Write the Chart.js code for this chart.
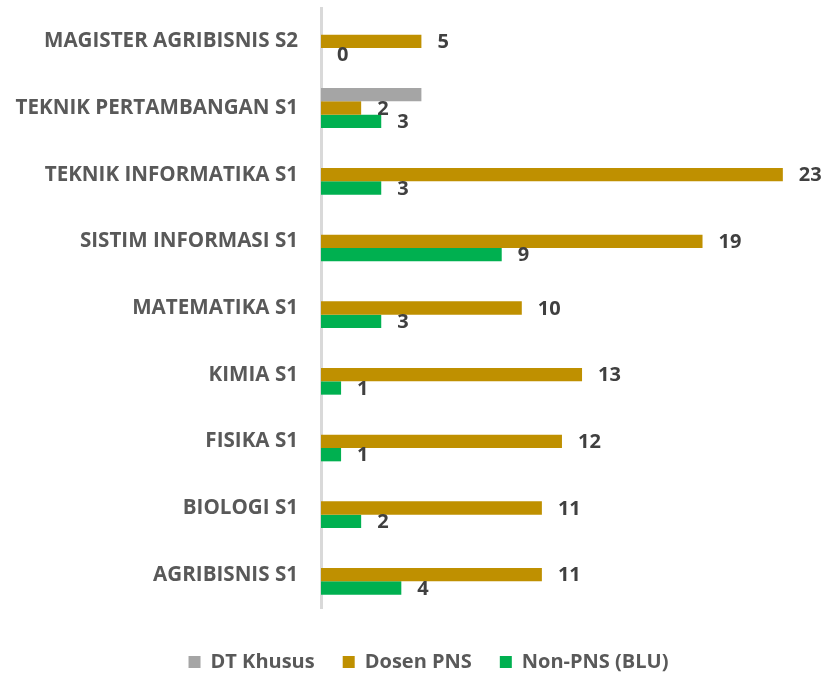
<!DOCTYPE html>
<html>
<head>
<meta charset="utf-8">
<script src="https://cdn.jsdelivr.net/npm/chart.js@4/dist/chart.umd.min.js"></script>
<style>
  html, body { margin: 0; padding: 0; background: #ffffff; }
  #wrap { width: 827px; height: 674px; position: relative; }
</style>
</head>
<body>
<div id="wrap"><canvas id="c" width="827" height="674"></canvas></div>
<script>
const categories = [
  'MAGISTER AGRIBISNIS S2',
  'TEKNIK PERTAMBANGAN S1',
  'TEKNIK INFORMATIKA S1',
  'SISTIM INFORMASI S1',
  'MATEMATIKA S1',
  'KIMIA S1',
  'FISIKA S1',
  'BIOLOGI S1',
  'AGRIBISNIS S1'
];
const seriesNames = ['DT Khusus', 'Dosen PNS', 'Non-PNS (BLU)'];
const dtKhusus = [null, 5, null, null, null, null, null, null, null];
const dosenPNS = [5, 2, 23, 19, 10, 13, 12, 11, 11];
const nonPNS = [0, 3, 3, 9, 3, 1, 1, 2, 4];

const FONT = '"Open Sans", Lato, sans-serif';

const valueLabels = {
  id: 'valueLabels',
  afterDatasetsDraw(chart) {
    const ctx = chart.ctx;
    ctx.save();
    ctx.font = 'bold 20px ' + FONT;
    ctx.fillStyle = '#404040';
    ctx.textBaseline = 'middle';
    ctx.textAlign = 'left';
    chart.data.datasets.forEach((ds, i) => {
      if (ds.showValueLabels === false) return;
      const meta = chart.getDatasetMeta(i);
      meta.data.forEach((bar, j) => {
        const v = ds.data[j];
        if (v === null || v === undefined) return;
        ctx.fillText(String(v), bar.x + 16, bar.y + 1);
      });
    });
    ctx.restore();
  }
};

const legendShift = {
  id: 'legendShift',
  afterLayout(chart) {
    const lg = chart.legend;
    if (lg) {
      lg.top += 16; lg.bottom += 16;
      lg.left += 17; lg.right += 17;
    }
  }
};

new Chart(document.getElementById('c'), {
  type: 'bar',
  data: {
    labels: categories,
    datasets: [
      { label: seriesNames[0], data: dtKhusus, backgroundColor: '#A5A5A5', showValueLabels: false },
      { label: seriesNames[1], data: dosenPNS, backgroundColor: '#BF9000' },
      { label: seriesNames[2], data: nonPNS, backgroundColor: '#00B050' }
    ]
  },
  options: {
    indexAxis: 'y',
    responsive: false,
    animation: false,
    categoryPercentage: 0.6,
    barPercentage: 1.0,
    layout: { padding: { top: 8, right: 4, left: 0, bottom: 8 } },
    scales: {
      x: { display: false, min: 0, max: 25 },
      y: {
        grid: { display: false, drawTicks: false },
        border: { display: true, color: '#D9D9D9', width: 3 },
        ticks: {
          padding: 23,
          color: '#595959',
          font: { family: FONT, size: 20.6, weight: 'bold' }
        },
        afterFit(scale) {
          scale.width = 321;
          scale.paddingTop = 0;
          scale.paddingBottom = 0;
        }
      }
    },
    plugins: {
      legend: {
        position: 'bottom',
        labels: {
          boxWidth: 12,
          boxHeight: 12,
          padding: 28,
          color: '#595959',
          font: { family: FONT, size: 20, weight: 'bold' }
        }
      },
      tooltip: { enabled: false }
    }
  },
  plugins: [valueLabels, legendShift]
});
</script>
</body>
</html>
